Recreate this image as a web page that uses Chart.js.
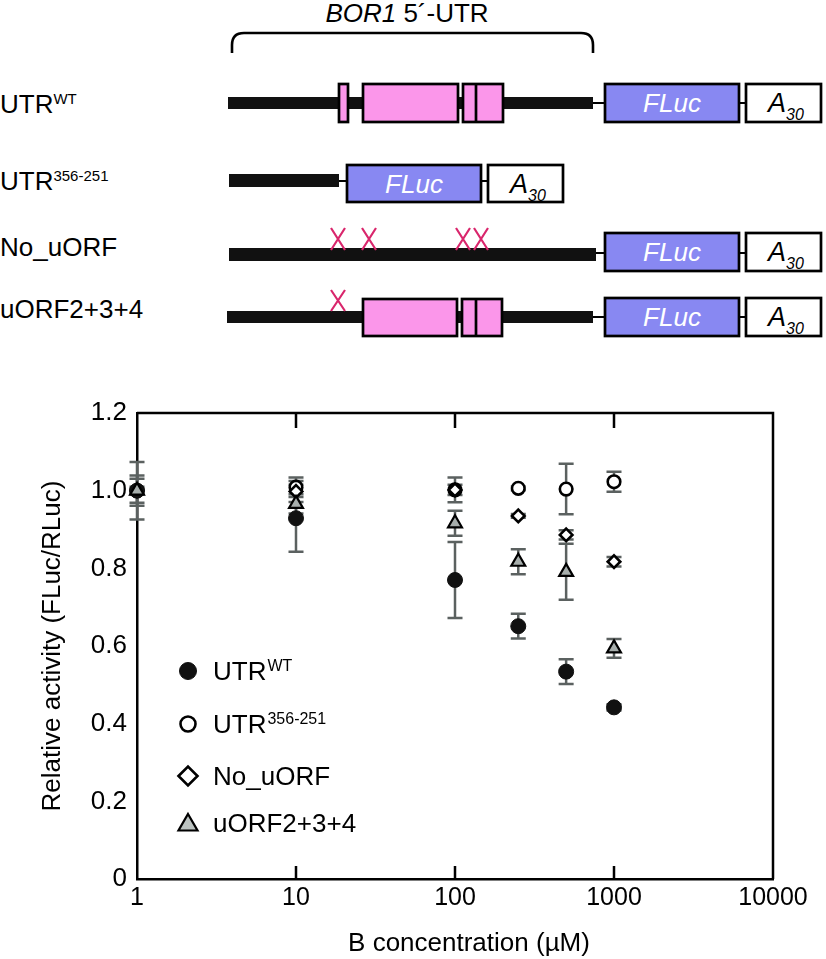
<!DOCTYPE html>
<html>
<head>
<meta charset="utf-8">
<script src="https://cdn.jsdelivr.net/npm/chart.js@4.4.1/dist/chart.umd.min.js"></script>
<style>
  body { margin: 0; background: #fff; font-family: "Liberation Sans", Arial, sans-serif; }
  #diagram { position: absolute; left: 0; top: 0; }
  #plotBox { position: absolute; left: 0; top: 360px; width: 826px; height: 599px; }
</style>
</head>
<body>

<svg id="diagram" width="826" height="360" font-family="Liberation Sans, Arial, sans-serif">
  <!-- brace and title -->
  <text x="407" y="22" font-size="26" text-anchor="middle"><tspan font-style="italic">BOR1</tspan> 5´-UTR</text>
  <path d="M232,53 L232,45 Q232,33 244,33 L581,33 Q593,33 593,45 L593,53" fill="none" stroke="#000" stroke-width="2.6"/>

  <!-- row labels -->
  <text x="0" y="113" font-size="26">UTR<tspan font-size="15" dy="-9">WT</tspan></text>
  <text x="0" y="190" font-size="26">UTR<tspan font-size="15" dy="-9">356-251</tspan></text>
  <text x="0" y="256" font-size="26">No_uORF</text>
  <text x="0" y="318" font-size="26">uORF2+3+4</text>

  <g stroke="#000" stroke-width="2.7">
    <!-- UTR WT -->
    <rect x="228" y="97" width="365" height="12" fill="#111" stroke="none"/>
    <line x1="593" y1="103" x2="605" y2="103" stroke-width="2"/>
    <rect x="339" y="84" width="9" height="38" fill="#fb96ea"/>
    <rect x="363" y="84" width="95" height="38" fill="#fb96ea"/>
    <rect x="463" y="84" width="40" height="38" fill="#fb96ea"/>
    <line x1="476" y1="84" x2="476" y2="122"/>
    <rect x="605" y="84" width="134" height="38" fill="#8888f2"/>
    <line x1="739" y1="103" x2="746" y2="103" stroke-width="2"/>
    <rect x="746" y="84" width="75" height="38" fill="#fff"/>

    <!-- UTR 356-251 -->
    <rect x="229" y="174" width="110" height="13" fill="#111" stroke="none"/>
    <line x1="339" y1="181" x2="347" y2="181" stroke-width="2"/>
    <rect x="347" y="165" width="134" height="37" fill="#8888f2"/>
    <line x1="481" y1="181" x2="488" y2="181" stroke-width="2"/>
    <rect x="488" y="165" width="75" height="37" fill="#fff"/>

    <!-- No_uORF -->
    <rect x="229" y="248" width="367" height="13" fill="#111" stroke="none"/>
    <line x1="596" y1="253" x2="605" y2="253" stroke-width="2"/>
    <rect x="605" y="233" width="134" height="38" fill="#8888f2"/>
    <line x1="739" y1="253" x2="746" y2="253" stroke-width="2"/>
    <rect x="746" y="233" width="75" height="38" fill="#fff"/>

    <!-- uORF2+3+4 -->
    <rect x="227" y="311" width="366" height="12" fill="#111" stroke="none"/>
    <line x1="593" y1="317" x2="605" y2="317" stroke-width="2"/>
    <rect x="363" y="299" width="94" height="37" fill="#fb96ea"/>
    <rect x="462" y="299" width="40" height="37" fill="#fb96ea"/>
    <line x1="476" y1="299" x2="476" y2="336"/>
    <rect x="605" y="298" width="134" height="38" fill="#8888f2"/>
    <line x1="739" y1="317" x2="746" y2="317" stroke-width="2"/>
    <rect x="746" y="298" width="75" height="38" fill="#fff"/>
  </g>

  <!-- mutated start codons -->
  <g stroke="#d9266c" stroke-width="2.2">
    <path d="M331,228 L345,250 M345,228 L331,250"/>
    <path d="M362,228 L376,250 M376,228 L362,250"/>
    <path d="M456,228 L470,250 M470,228 L456,250"/>
    <path d="M474,228 L488,250 M488,228 L474,250"/>
    <path d="M331,290 L345,311 M345,290 L331,311"/>
  </g>

  <!-- box texts -->
  <g font-size="26" font-style="italic" text-anchor="middle" fill="#fff">
    <text x="672" y="112">FLuc</text>
    <text x="414" y="193">FLuc</text>
    <text x="672" y="261">FLuc</text>
    <text x="672" y="326">FLuc</text>
  </g>
  <g font-size="27" font-style="italic" fill="#000">
    <text x="768" y="112">A<tspan font-size="16" dy="8">30</tspan></text>
    <text x="510" y="193">A<tspan font-size="16" dy="8">30</tspan></text>
    <text x="768" y="261">A<tspan font-size="16" dy="8">30</tspan></text>
    <text x="768" y="326">A<tspan font-size="16" dy="8">30</tspan></text>
  </g>
</svg>

<div id="plotBox"><canvas id="activity_chart"></canvas></div>

<script>
const concentrations = [1, 10, 100, 250, 500, 1000];

const utrWT = [1.0, 0.929, 0.770, 0.651, 0.534, 0.442];
const utrWTErr = [0.074, 0.086, 0.098, 0.032, 0.032, 0.008];

const utr356 = [1.0, 1.009, 1.002, 1.006, 1.004, 1.023];
const utr356Err = [0.039, 0.025, 0.032, 0.005, 0.065, 0.026];

const noUorf = [1.0, 0.998, 1.002, 0.935, 0.886, 0.817];
const noUorfErr = [0.031, 0.027, 0.013, 0.005, 0.012, 0.012];

const uorf234 = [1.0, 0.966, 0.916, 0.817, 0.791, 0.594];
const uorf234Err = [0.01, 0.025, 0.032, 0.032, 0.072, 0.024];

const seriesNames = ['UTR', 'UTR', 'No_uORF', 'uORF2+3+4'];
const seriesSup = ['WT', '356-251', '', ''];

const xTicks = [1, 10, 100, 1000, 10000];
const yTicks = [0, 0.2, 0.4, 0.6, 0.8, 1.0, 1.2];

const FONT = '"Liberation Sans", Arial, sans-serif';
const errColor = '#5b6160';

function toPoints(values) {
  return values.map((v, i) => ({ x: concentrations[i], y: v }));
}

// error bars, outer frame and inner decade ticks
const framePlugin = {
  id: 'frame',
  beforeDatasetsDraw(chart) {
    const { ctx, chartArea, scales: { x, y } } = chart;
    ctx.save();
    ctx.strokeStyle = '#000';
    ctx.lineWidth = 2.5;
    ctx.beginPath();
    ctx.moveTo(chartArea.left, chartArea.top);
    ctx.lineTo(chartArea.right, chartArea.top);
    ctx.lineTo(chartArea.right, chartArea.bottom);
    [10, 100, 1000].forEach(v => {
      const px = x.getPixelForValue(v);
      ctx.moveTo(px, chartArea.top);
      ctx.lineTo(px, chartArea.top + 15);
      ctx.moveTo(px, chartArea.bottom);
      ctx.lineTo(px, chartArea.bottom - 13);
    });
    ctx.stroke();

    ctx.strokeStyle = errColor;
    ctx.lineWidth = 2.5;
    chart.data.datasets.forEach(ds => {
      ds.data.forEach((pt, i) => {
        const px = x.getPixelForValue(pt.x);
        const top = y.getPixelForValue(pt.y + ds.errors[i]);
        const bot = y.getPixelForValue(pt.y - ds.errors[i]);
        ctx.beginPath();
        ctx.moveTo(px, top); ctx.lineTo(px, bot);
        ctx.moveTo(px - 7.5, top); ctx.lineTo(px + 7.5, top);
        ctx.moveTo(px - 7.5, bot); ctx.lineTo(px + 7.5, bot);
        ctx.stroke();
      });
    });
    ctx.restore();
  },
  afterDraw(chart) {
    const { ctx, scales: { x } } = chart;
    ctx.save();
    // x axis title
    ctx.fillStyle = '#000';
    ctx.font = '26px ' + FONT;
    ctx.textAlign = 'center';
    ctx.textBaseline = 'alphabetic';
    ctx.fillText('B concentration (µM)', (x.left + x.right) / 2 + 14, 591);

    // legend inside the plot
    const rowsY = [311, 364, 416, 463];
    const legendSizes = [8.5, 7.5, 9.5, 11];
    chart.data.datasets.forEach((ds, i) => {
      const cy = rowsY[i];
      ctx.fillStyle = ds.pointStyle === 'triangle' ? '#bcc3c1' : ds.backgroundColor;
      ctx.strokeStyle = ds.borderColor;
      ctx.lineWidth = ds.borderWidth;
      Chart.helpers.drawPoint(ctx, {
        pointStyle: ds.pointStyle, radius: legendSizes[i],
        borderWidth: ds.borderWidth, rotation: 0
      }, 188, cy + (ds.pointStyle === 'triangle' ? 2 : 0));
      ctx.fillStyle = '#000';
      ctx.font = '26px ' + FONT;
      ctx.textAlign = 'left';
      const base = cy + 9;
      ctx.fillText(seriesNames[i], 213, base);
      if (seriesSup[i]) {
        const w = ctx.measureText(seriesNames[i]).width;
        ctx.font = '16px ' + FONT;
        ctx.fillText(seriesSup[i], 213 + w + 1, base - 9);
      }
    });
    ctx.restore();
  }
};

const ctx = document.getElementById('activity_chart');

new Chart(ctx, {
  type: 'scatter',
  data: {
    datasets: [
      {
        label: 'UTR WT', data: toPoints(utrWT), errors: utrWTErr, clip: false,
        pointStyle: 'circle', pointRadius: 7.5, backgroundColor: '#111', borderColor: '#111', borderWidth: 1, order: 1
      },
      {
        label: 'UTR 356-251', data: toPoints(utr356), errors: utr356Err, clip: false,
        pointStyle: 'circle', pointRadius: 6.3, backgroundColor: '#fff', borderColor: '#000', borderWidth: 2.6, order: 3
      },
      {
        label: 'No_uORF', data: toPoints(noUorf), errors: noUorfErr, clip: false,
        pointStyle: 'rectRot', pointRadius: 6.3, backgroundColor: '#fff', borderColor: '#000', borderWidth: 2.6, order: 2
      },
      {
        label: 'uORF2+3+4', data: toPoints(uorf234), errors: uorf234Err, clip: false,
        pointStyle: 'triangle', pointRadius: 8, backgroundColor: '#a7aeac', borderColor: '#000', borderWidth: 2.2, order: 0
      }
    ]
  },
  options: {
    responsive: true,
    maintainAspectRatio: false,
    animation: false,
    layout: { padding: { top: 53, right: 53, bottom: 0, left: 0 } },
    plugins: { legend: { display: false }, tooltip: { enabled: false } },
    scales: {
      x: {
        type: 'logarithmic',
        min: 1,
        max: 10000,
        afterBuildTicks: scale => { scale.ticks = xTicks.map(v => ({ value: v })); },
        afterFit: scale => { scale.height = 80; },
        grid: { display: false, drawTicks: false },
        border: { display: true, color: '#000', width: 2.5 },
        ticks: {
          color: '#000', font: { family: FONT, size: 25 }, padding: 4,
          autoSkip: false, maxRotation: 0,
          callback: value => String(value)
        }
      },
      y: {
        min: 0,
        max: 1.2,
        afterBuildTicks: scale => { scale.ticks = yTicks.map(v => ({ value: v })); },
        afterFit: scale => { scale.width = 137; },
        grid: { display: false, drawTicks: false },
        border: { display: true, color: '#000', width: 2.5 },
        ticks: {
          color: '#000', font: { family: FONT, size: 26 }, padding: 10,
          callback: value => value === 0 ? '0' : value.toFixed(1)
        },
        title: {
          display: true, text: 'Relative activity (FLuc/RLuc)', color: '#000',
          font: { family: FONT, size: 26 }, padding: { top: 37 }
        }
      }
    }
  },
  plugins: [framePlugin]
});
</script>
</body>
</html>
